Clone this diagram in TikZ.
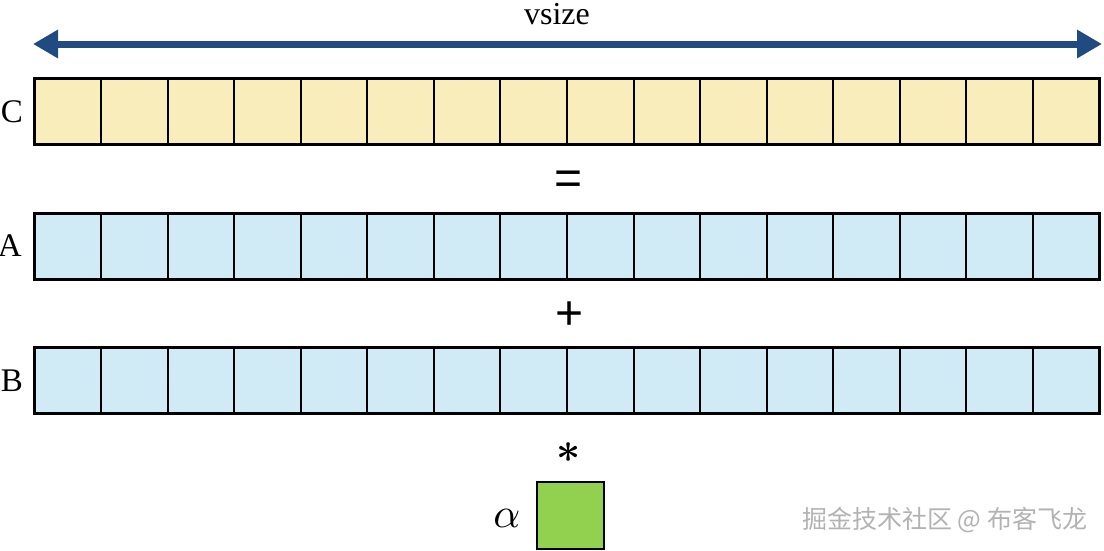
\documentclass[tikz,border=0pt]{standalone}
\usepackage{fontspec}
\setmainfont{Liberation Serif}
\newfontfamily\symsans{Liberation Sans}
\newfontfamily\cjk{Noto Sans CJK SC}
\usetikzlibrary{arrows.meta}
\definecolor{cyel}{HTML}{F9EDBC}
\definecolor{cblu}{HTML}{D0EBF5}
\definecolor{cgrn}{HTML}{92D050}
\definecolor{carr}{HTML}{1F4B80}
\tikzset{
  cellbox/.style={draw=black, line width=2pt, minimum width=66.5625pt, minimum height=66pt, inner sep=0pt, outer sep=0pt},
  rowframe/.style={draw=black, line width=3pt},
  lbl/.style={font=\fontsize{33}{40}\selectfont, inner sep=0pt},
  opsym/.style={font=\symsans\fontsize{48}{56}\selectfont, inner sep=0pt},
  vecarrow/.style={draw=carr, line width=7pt, {Triangle[length=25pt,width=27pt]}-{Triangle[length=25pt,width=27pt]}},
  wmark/.style={font=\cjk\fontsize{25}{30}\selectfont, text=black!30, inner sep=0pt}
}
\begin{document}
\begin{tikzpicture}[x=1pt,y=-1pt]
\useasboundingbox (0,0) rectangle (1104,550);
% arrow
\coordinate (al) at (33,44);
\coordinate (ar) at (1102,44);
\draw[vecarrow] (al) -- (ar);
\node[lbl, anchor=base, font=\fontsize{32}{38}\selectfont] (vs) at (557,24) {vsize};
% rows
\foreach \r/\yc/\col in {c/111.5/cyel, a/246/cblu, b/380.5/cblu}{
  \foreach \i in {1,...,16}{
    \node[cellbox, fill=\col] (\r\i) at ({34.5+66.5625*(\i-0.5)},\yc) {};
  }
  \draw[rowframe] (\r1.north west) rectangle (\r16.south east);
}
\node[lbl, anchor=east] (lc) at (23,112) {C};
\node[lbl, anchor=east] (la) at (22,246) {A};
\node[lbl, anchor=east] (lb) at (23,381) {B};
% operators
\node[opsym] (eq) at (568.5,183) {=};
\node[opsym] (plus) at (569.5,316) {+};
\node[scale=4.2, inner sep=0pt, font=\boldmath] (star) at (568.5,453) {$\ast$};
% alpha
\node[draw=black, line width=2pt, fill=cgrn, minimum width=67pt, minimum height=67pt, inner sep=0pt] (alphabox) at (570.5,515.5) {};
\node[scale=4.2, inner sep=0pt] (alpha) at (507,518) {$\alpha$};
% watermark
\node[wmark, anchor=west] (wm) at (802,520) {掘金技术社区 @ 布客飞龙};
\end{tikzpicture}
\end{document}
